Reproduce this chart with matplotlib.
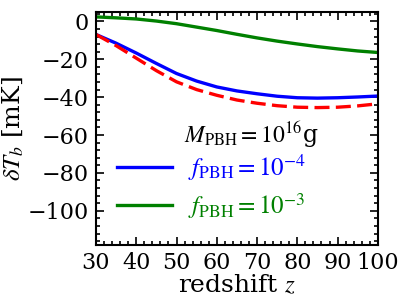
import matplotlib
matplotlib.use("Agg")
import matplotlib.pyplot as plt
from matplotlib.ticker import MultipleLocator

plt.rcParams['font.family'] = ['DejaVu Serif']
plt.rcParams['mathtext.fontset'] = 'stix'

z = [30, 35, 40, 45, 50, 55, 60, 65, 70, 75, 80, 85, 90, 95, 100]
dT_f1e4 = [-6.9, -11.5, -16.7, -22.2, -27.5, -31.5, -34.6, -36.7, -38.2, -39.5, -40.3, -40.5, -40.3, -39.9, -39.4]
dT_ref = [-6.9, -12.8, -19.4, -26.0, -31.9, -36.0, -39.0, -41.5, -43.2, -44.5, -45.3, -45.5, -45.3, -44.6, -43.5]
dT_f1e3 = [2.4, 1.9, 1.3, 0.2, -1.2, -3.0, -4.8, -6.8, -8.7, -10.4, -11.9, -13.3, -14.5, -15.6, -16.4]

labels = [r'$f_{\rm PBH} = 10^{-4}$', r'$f_{\rm PBH} = 10^{-3}$']
title = r'$M_{\rm PBH} = 10^{16}$g'

fig = plt.figure(figsize=(3.99, 2.99), dpi=100)
ax = fig.add_axes([0.2406, 0.181, 0.947 - 0.2406, 0.96 - 0.181])

l1, = ax.plot(z, dT_f1e4, color='blue', lw=2.4, label=labels[0])
l2, = ax.plot(z, dT_f1e3, color='green', lw=2.4, label=labels[1])
ax.plot(z, dT_ref, color='red', lw=2.4, ls=(0, (4.5, 1.9)))

ax.set_xlim(30, 100)
ax.set_ylim(-118, 5)
ax.xaxis.set_major_locator(MultipleLocator(10))
ax.xaxis.set_minor_locator(MultipleLocator(2))
ax.yaxis.set_major_locator(MultipleLocator(20))
ax.yaxis.set_minor_locator(MultipleLocator(4))
ax.tick_params(which='both', direction='in', top=True, right=True, width=1.2)
ax.tick_params(which='major', length=6, labelsize=16, pad=5)
ax.tick_params(which='minor', length=3)
for s in ax.spines.values():
    s.set_linewidth(1.5)

ax.set_xlabel(r'redshift $z$', fontsize=18, labelpad=0)
ax.set_ylabel(r'$\delta T_b$ [mK]', fontsize=18, labelpad=2)

leg = ax.legend(handles=[l1, l2], loc='center left', bbox_to_anchor=(117 / 399, 1 - 186.7 / 299),
                bbox_transform=fig.transFigure, borderpad=0, borderaxespad=0,
                frameon=False, handlelength=2.2, fontsize=18, labelspacing=0.3,
                handletextpad=0.65)
for t, c in zip(leg.get_texts(), ['blue', 'green']):
    t.set_color(c)
fig.text(318 / 399, 1 - 143 / 299, title, ha='right', va='baseline', fontsize=17)

fig.savefig('out.png', dpi=100)
